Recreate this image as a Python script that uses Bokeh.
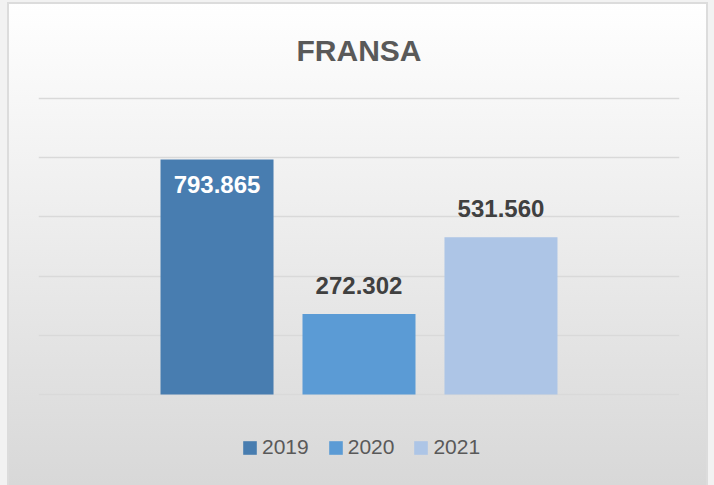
from bokeh.plotting import figure
from bokeh.models import ColumnDataSource, Range1d, LabelSet, FixedTicker, Legend, LegendItem
from bokeh.core.properties import value
from bokeh.embed import file_html
from bokeh.resources import INLINE

# data
years = ["2019", "2020", "2021"]
values = [793865, 272302, 531560]
grid_ticks = [0, 200000, 400000, 600000, 800000, 1000000]
colors = ["#487db0", "#5b9bd5", "#adc5e6"]
label_colors = ["#ffffff", "#404040", "#404040"]
label_offsets = [-25, 28, 29]

step = 0.2215
pos = [(i - (len(years) - 1) / 2) * step for i in range(len(years))]
labels = [f"{v:,}".replace(",", ".") for v in values]

src = ColumnDataSource(dict(year=years, value=values, pos=pos, color=colors,
                            label=labels, lcolor=label_colors, loff=label_offsets))

# layout: 296 px for 0..1,000,000; frame extends below baseline to hold the legend
u = grid_ticks[-1] / 296.0
p = figure(width=714, height=485, output_backend="svg", toolbar_location=None,
           x_range=Range1d(-0.5, 0.5),
           y_range=Range1d(-91 * u, grid_ticks[-1] + 4 * u),
           title="FRANSA")
p.styles = {
    "background": "linear-gradient(to bottom, #ffffff 0%, #d8d8d8 100%)",
    "box-shadow": ("inset 7px 2px 0 0 #f2f2f2, inset -6px 0 0 0 #f2f2f2, "
                   "inset 9px 4px 0 0 #dcdcdc, inset -8px 0 0 0 #dcdcdc"),
}
p.background_fill_alpha = 0
p.border_fill_alpha = 0
p.outline_line_color = None
p.min_border_left = 38
p.min_border_right = 35
p.min_border_top = 94
p.min_border_bottom = 0

p.title.align = "center"
p.title.text_font = "Liberation Sans"
p.title.text_font_style = "bold"
p.title.text_font_size = "30px"
p.title.text_color = "#595959"
p.title.standoff = 56

p.xaxis.visible = False
p.yaxis.visible = False
p.xgrid.visible = False
p.yaxis.ticker = FixedTicker(ticks=grid_ticks)
p.ygrid.grid_line_color = "#d9d9d9"
p.ygrid.grid_line_width = 1.5

r = p.vbar(x="pos", top="value", bottom=0, width=0.1763, source=src, fill_color="color",
           line_color=None)

lab = LabelSet(x="pos", y="value", text="label", source=src, text_align="center",
               text_baseline="middle", y_offset="loff", text_color="lcolor",
               text_font=value("Liberation Sans"), text_font_style="bold",
               text_font_size="24px")
p.add_layout(lab)

legend = Legend(items=[LegendItem(label=y, renderers=[r], index=i) for i, y in enumerate(years)],
                orientation="horizontal", location=(203, 26))
legend.label_text_font = "Liberation Sans"
legend.label_text_font_size = "21px"
legend.label_text_color = "#595959"
legend.glyph_width = 17
legend.glyph_height = 17
legend.label_standoff = 4
legend.spacing = 18
legend.background_fill_alpha = 0
legend.border_line_color = None
legend.margin = 0
legend.padding = 0
p.add_layout(legend)

open("out.html", "w").write(file_html(p, INLINE))
